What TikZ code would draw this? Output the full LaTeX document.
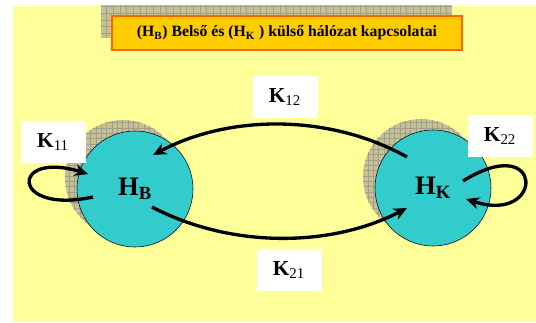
\documentclass[tikz,border=0pt]{standalone}
\usepackage{fontspec}
\setmainfont{Liberation Serif}
\usetikzlibrary{arrows.meta}
\definecolor{slidebg}{HTML}{FFFF99}
\definecolor{netcyan}{HTML}{33CCCC}
\definecolor{titlefill}{HTML}{FFCC00}
\definecolor{titleedge}{HTML}{FF6600}
\definecolor{shadowfill}{HTML}{C4C196}
\definecolor{gridgray}{HTML}{A29E88}
\begin{document}
\begin{tikzpicture}[
x=0.75pt, y=-0.75pt,
net/.style={
circle,
draw,
fill=netcyan,
minimum size=87pt,
inner sep=0pt,
font=\bfseries\fontsize{20}{22}\selectfont
},
kbox/.style={
fill=white,
minimum width=48.75pt,
minimum height=32pt,
inner sep=0pt,
font=\fontsize{16}{18}\selectfont
},
link/.style={line width=2.5pt, -{Stealth[length=10pt,width=9pt]}},
hatch/.style={draw=gridgray, line width=0.3pt}
]
\useasboundingbox (0,0) rectangle (536,322);
\fill[slidebg] (13,6) rectangle (536,322);

% title with its checkered shadow
\fill[shadowfill] (101,5) rectangle (452,38);
\begin{scope}
\clip (101,5) rectangle (452,38);
\draw[hatch, step=5pt] (101,5) grid (452,38);
\end{scope}
\node[draw=titleedge, line width=0.9pt, fill=titlefill, minimum width=262.5pt, minimum height=25.5pt,
font=\bfseries\fontsize{11.8}{13}\selectfont] (title) at (287,33)
{(H\textsubscript{B}) Belső és (H\textsubscript{K} ) külső hálózat kapcsolatai};

% shadows of the two nets
\foreach \cx/\cy in {123/178, 421/177} {
\fill[shadowfill] (\cx,\cy) circle (43.5pt);
\begin{scope}
\clip (\cx,\cy) circle (43.5pt);
\draw[hatch, step=4pt] (\cx-60,\cy-60) grid (\cx+60,\cy+60);
\end{scope}
}

\node[net] (hb) at (135,189) {H\textsubscript{B}};
\node[net] (hk) at (433,188) {H\textsubscript{K}};

\node[kbox] (k11) at (53,142) {\textbf{K}\textsubscript{11}};
\node[kbox] (k12) at (285,97) {\textbf{K}\textsubscript{12}};
\node[kbox] (k21) at (289,270) {\textbf{K}\textsubscript{21}};
\node[kbox] (k22) at (500,136) {\textbf{K}\textsubscript{22}};

\draw[link] ([shift={(-26,-31)}]hk.center) .. controls (330,114) and (230,114) .. ([shift={(18,-34)}]hb.center);
\draw[link] ([shift={(17,18)}]hb.center) .. controls (230,248) and (330,248) .. ([shift={(-26,20)}]hk.center);
\draw[link] ([shift={(-42,8)}]hb.center) .. controls (10,215) and (10,150) .. ([shift={(-47,-15)}]hb.center);
\draw[link] ([shift={(30,-7)}]hk.center) .. controls (545,130) and (545,225) .. ([shift={(33,11)}]hk.center);

\end{tikzpicture}
\end{document}
